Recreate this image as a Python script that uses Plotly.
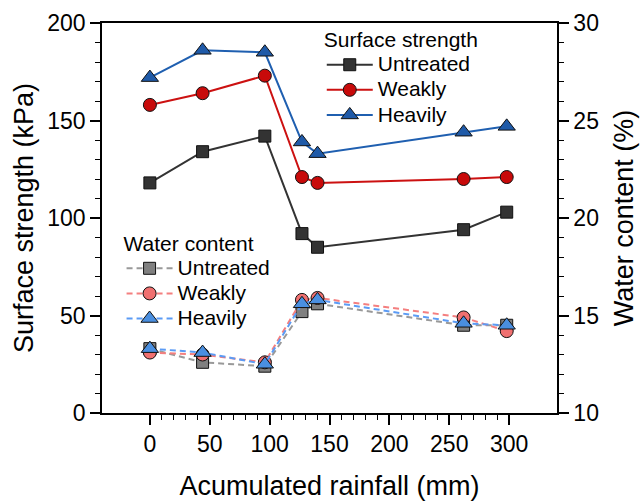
import plotly.graph_objects as go

rainfall = [0, 44, 96, 127, 140, 262, 298]

strength_untreated = [118, 134, 142, 92, 85, 94, 103]
strength_weakly = [158, 164, 173, 121, 118, 120, 121]
strength_heavily = [172, 186, 185, 139, 133, 144, 147]

water_untreated = [13.3, 12.6, 12.4, 15.2, 15.6, 14.5, 14.5]
water_weakly = [13.1, 13.0, 12.6, 15.8, 15.9, 14.9, 14.2]
water_heavily = [13.3, 13.1, 12.5, 15.6, 15.8, 14.6, 14.5]

series_names = ["Untreated", "Weakly", "Heavily"]

x_ticks = [0, 50, 100, 150, 200, 250, 300]
x_minor = [v for v in range(0, 301, 10) if v % 50]
y_ticks = [0, 50, 100, 150, 200]
y2_ticks = [10, 15, 20, 25, 30]

FONT = "Arial, Liberation Sans, sans-serif"

fig = go.Figure()

def label(name):
    return '<span style="font-size:21px">%s</span>' % name

def add(y, name, color, fill, symbol, size, legend, yaxis, dash=None):
    fig.add_trace(go.Scatter(
        x=rainfall, y=y, name=label(name), mode="lines+markers",
        line=dict(color=color, width=2, dash=dash if dash else "solid"),
        marker=dict(symbol=symbol, size=size, color=fill,
                    line=dict(color="#111111", width=1)),
        legend=legend, yaxis=yaxis,
    ))

add(strength_untreated, series_names[0], "#333333", "#333333", "square", 12, "legend", "y")
add(strength_weakly, series_names[1], "#cc1111", "#c80a0a", "circle", 13, "legend", "y")
add(strength_heavily, series_names[2], "#1f5fb0", "#1f5aa8", "triangle-up", 15, "legend", "y")

add(water_untreated, series_names[0], "#999999", "#808080", "square", 12, "legend2", "y2", "6px,4px")
add(water_weakly, series_names[1], "#f47f7f", "#f07070", "circle", 13, "legend2", "y2", "6px,4px")
add(water_heavily, series_names[2], "#5b9bf5", "#4a8fe0", "triangle-up", 15, "legend2", "y2", "6px,4px")

axis_common = dict(showline=True, linecolor="black", linewidth=1.5, ticks="outside",
                   ticklen=10, tickwidth=1.5, tickcolor="black", showgrid=False,
                   zeroline=False, automargin=False,
                   tickfont=dict(size=23, color="black", family=FONT))

fig.update_layout(
    width=641, height=501,
    margin=dict(l=102, r=84, t=23, b=88),
    paper_bgcolor="white", plot_bgcolor="white",
    font=dict(family=FONT, color="black"),
    showlegend=True,
    xaxis=dict(range=[-40, 340], tickvals=x_ticks, mirror=True,
               title=dict(text="Acumulated rainfall (mm)", font=dict(size=27), standoff=22),
               minor=dict(tickvals=x_minor, ticks="outside", ticklen=5, tickwidth=1.2, tickcolor="black"),
               **axis_common),
    yaxis=dict(range=[0, 200], tickvals=y_ticks, mirror=True,
               title=dict(text="Surface strength (kPa)", font=dict(size=27), standoff=6),
               minor=dict(dtick=10, ticks="outside", ticklen=5, tickwidth=1.2, tickcolor="black"),
               **axis_common),
    yaxis2=dict(range=[10, 30], tickvals=y2_ticks, overlaying="y", side="right",
                title=dict(text="Water content (%)", font=dict(size=27), standoff=16),
                minor=dict(dtick=1, ticks="outside", ticklen=5, tickwidth=1.2, tickcolor="black"),
                **axis_common),
    legend=dict(title=dict(text="Surface strength", font=dict(size=21)),
                x=0.483, y=1.008, xanchor="left", yanchor="top",
                bgcolor="rgba(0,0,0,0)", font=dict(size=17), tracegroupgap=0,
                itemwidth=46),
    legend2=dict(title=dict(text="Water content", font=dict(size=21)),
                 x=0.043, y=0.486, xanchor="left", yanchor="top",
                 bgcolor="rgba(0,0,0,0)", font=dict(size=17), tracegroupgap=0,
                 itemwidth=46),
)

fig.write_html("out.html", config={"displayModeBar": False},
               post_script="document.body.style.margin='0px';")
